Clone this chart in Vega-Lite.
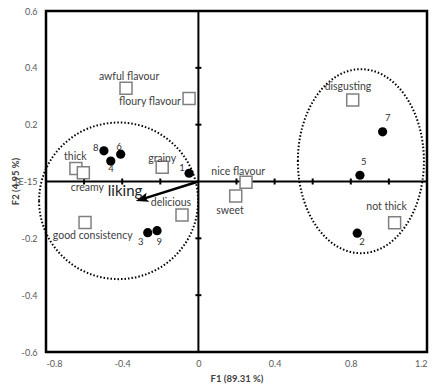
{
  "$schema": "https://vega.github.io/schema/vega-lite/v6.json",
  "width": 381,
  "height": 341,
  "autosize": {"type": "none"},
  "padding": {"left": 46, "top": 11, "right": 12, "bottom": 40},
  "background": "white",
  "config": {
    "view": {"stroke": "black", "strokeWidth": 2.5},
    "font": "Lato",
    "axis": {"grid": false, "domain": false, "ticks": false, "labelFont": "Lato", "titleFont": "Lato"}
  },
  "datasets": {
    "points": [
      {"id": "1", "x": -0.049, "y": 0.029, "lx": -0.086, "ly": 0.048},
      {"id": "2", "x": 0.834, "y": -0.182, "lx": 0.859, "ly": -0.213},
      {"id": "3", "x": -0.266, "y": -0.18, "lx": -0.303, "ly": -0.212},
      {"id": "4", "x": -0.46, "y": 0.072, "lx": -0.459, "ly": 0.043},
      {"id": "5", "x": 0.848, "y": 0.022, "lx": 0.868, "ly": 0.068},
      {"id": "6", "x": -0.408, "y": 0.096, "lx": -0.417, "ly": 0.123},
      {"id": "7", "x": 0.967, "y": 0.175, "lx": 0.994, "ly": 0.225},
      {"id": "8", "x": -0.496, "y": 0.108, "lx": -0.539, "ly": 0.117},
      {"id": "9", "x": -0.217, "y": -0.173, "lx": -0.205, "ly": -0.213}
    ],
    "attributes": [
      {"name": "awful flavour", "x": -0.38, "y": 0.328, "lx": -0.364, "ly": 0.368},
      {"name": "floury flavour", "x": -0.049, "y": 0.292, "lx": -0.254, "ly": 0.28},
      {"name": "thick", "x": -0.643, "y": 0.046, "lx": -0.646, "ly": 0.087},
      {"name": "creamy", "x": -0.604, "y": 0.031, "lx": -0.583, "ly": -0.024},
      {"name": "grainy", "x": -0.19, "y": 0.05, "lx": -0.19, "ly": 0.078},
      {"name": "nice flavour", "x": 0.25, "y": -0.003, "lx": 0.209, "ly": 0.035},
      {"name": "sweet", "x": 0.196, "y": -0.051, "lx": 0.166, "ly": -0.103},
      {"name": "disgusting", "x": 0.81, "y": 0.287, "lx": 0.785, "ly": 0.332},
      {"name": "not thick", "x": 1.03, "y": -0.145, "lx": 0.988, "ly": -0.089},
      {"name": "delicious", "x": -0.086, "y": -0.118, "lx": -0.144, "ly": -0.075},
      {"name": "good consistency", "x": -0.595, "y": -0.144, "lx": -0.555, "ly": -0.192}
    ],
    "hticks": [{"x": -0.6}, {"x": -0.4}, {"x": -0.2}, {"x": 0.2}, {"x": 0.4}, {"x": 0.6}, {"x": 0.8}, {"x": 1.0}],
    "vticks": [{"y": -0.4}, {"y": -0.2}, {"y": 0.2}, {"y": 0.4}],
    "clusterA": [{"x": -0.419, "y": -0.068}],
    "clusterB": [{"x": 0.853, "y": 0.0715}],
    "arrow": [{"x": 0, "y": 0, "x2": -0.295, "y2": -0.062, "label": "liking", "lx": -0.385, "ly": -0.032}]
  },
  "encoding": {
    "x": {"type": "quantitative"},
    "y": {"type": "quantitative"}
  },
  "layer": [
    {
      "data": {"name": "clusterA"},
      "mark": {"type": "point", "filled": false, "shape": "M -1 0 A 1 0.985 0 1 1 1 0 A 1 0.985 0 1 1 -1 0 Z", "size": 25281, "stroke": "black", "strokeWidth": 2, "strokeDash": [1.5, 2], "opacity": 1},
      "encoding": {
        "x": {"field": "x", "type": "quantitative", "scale": {"domain": [-0.8, 1.2], "nice": false, "zero": false},
          "axis": {"values": [-0.8, -0.6, -0.4, -0.2, 0, 0.2, 0.4, 0.6, 0.8, 1, 1.2], "labelExpr": "replace(format(datum.value, '~g'), '\u2212', '-')", "labelFontSize": 9, "labelColor": "#595959", "labelPadding": 7, "title": "F1 (89.31 %)", "titleFontSize": 9.5, "titleFontWeight": "bold", "titleColor": "#404040", "titlePadding": 5}},
        "y": {"field": "y", "type": "quantitative", "scale": {"domain": [-0.6, 0.6], "nice": false, "zero": false},
          "axis": {"values": [-0.6, -0.4, -0.2, 0, 0.2, 0.4, 0.6], "labelExpr": "datum.value == 0 ? '1E-15' : replace(format(datum.value, '~g'), '\u2212', '-')", "labelFontSize": 9, "labelColor": "#595959", "labelPadding": 9, "title": "F2 (4.95 %)", "titleFontSize": 9.5, "titleFontWeight": "bold", "titleColor": "#404040", "titleX": -31, "titleY": 170, "titleAngle": -90, "titleBaseline": "middle", "titleAlign": "center"}}
      }
    },
    {
      "data": {"name": "clusterB"},
      "mark": {"type": "point", "filled": false, "shape": "M -0.685 0 A 0.685 1 0 1 1 0.685 0 A 0.685 1 0 1 1 -0.685 0 Z", "size": 33856, "stroke": "black", "strokeWidth": 2, "strokeDash": [1.5, 2], "opacity": 1},
      "encoding": {"x": {"field": "x", "type": "quantitative"}, "y": {"field": "y", "type": "quantitative"}}
    },
    {
      "data": {"values": [{}]},
      "mark": {"type": "rule", "stroke": "black", "strokeWidth": 2},
      "encoding": {"y": {"datum": 0, "type": "quantitative"}}
    },
    {
      "data": {"values": [{}]},
      "mark": {"type": "rule", "stroke": "black", "strokeWidth": 2},
      "encoding": {"x": {"datum": 0, "type": "quantitative"}}
    },
    {
      "data": {"name": "hticks"},
      "mark": {"type": "tick", "orient": "vertical", "size": 6, "thickness": 2, "color": "black", "opacity": 1},
      "encoding": {"x": {"field": "x", "type": "quantitative"}, "y": {"datum": 0, "type": "quantitative"}}
    },
    {
      "data": {"name": "vticks"},
      "mark": {"type": "tick", "orient": "horizontal", "size": 6, "thickness": 2, "color": "black", "opacity": 1},
      "encoding": {"y": {"field": "y", "type": "quantitative"}, "x": {"datum": 0, "type": "quantitative"}}
    },
    {
      "data": {"name": "arrow"},
      "mark": {"type": "rule", "stroke": "black", "strokeWidth": 2.5},
      "encoding": {"x": {"field": "x", "type": "quantitative"}, "y": {"field": "y", "type": "quantitative"}, "x2": {"field": "x2"}, "y2": {"field": "y2"}}
    },
    {
      "data": {"name": "arrow"},
      "mark": {"type": "point", "filled": true, "shape": "M 0 -1 L 0.7 0.9 L 0 0.5 L -0.7 0.9 Z", "size": 180, "angle": 253, "color": "black", "opacity": 1},
      "encoding": {"x": {"field": "x2", "type": "quantitative"}, "y": {"field": "y2", "type": "quantitative"}}
    },
    {
      "data": {"name": "arrow"},
      "mark": {"type": "text", "fontSize": 15, "color": "#222222", "align": "center", "baseline": "middle"},
      "encoding": {"x": {"field": "lx", "type": "quantitative"}, "y": {"field": "ly", "type": "quantitative"}, "text": {"field": "label"}}
    },
    {
      "data": {"name": "attributes"},
      "mark": {"type": "point", "shape": "square", "size": 144, "filled": true, "fill": "white", "stroke": "#808080", "strokeWidth": 1.5, "opacity": 1},
      "encoding": {"x": {"field": "x", "type": "quantitative"}, "y": {"field": "y", "type": "quantitative"}}
    },
    {
      "data": {"name": "attributes"},
      "mark": {"type": "text", "fontSize": 10.5, "color": "#404040", "align": "center", "baseline": "middle"},
      "encoding": {"x": {"field": "lx", "type": "quantitative"}, "y": {"field": "ly", "type": "quantitative"}, "text": {"field": "name"}}
    },
    {
      "data": {"name": "points"},
      "mark": {"type": "point", "shape": "circle", "size": 85, "filled": true, "color": "black", "opacity": 1},
      "encoding": {"x": {"field": "x", "type": "quantitative"}, "y": {"field": "y", "type": "quantitative"}}
    },
    {
      "data": {"name": "points"},
      "mark": {"type": "text", "fontSize": 9.5, "color": "#333333", "align": "center", "baseline": "middle"},
      "encoding": {"x": {"field": "lx", "type": "quantitative"}, "y": {"field": "ly", "type": "quantitative"}, "text": {"field": "id"}}
    }
  ]
}
